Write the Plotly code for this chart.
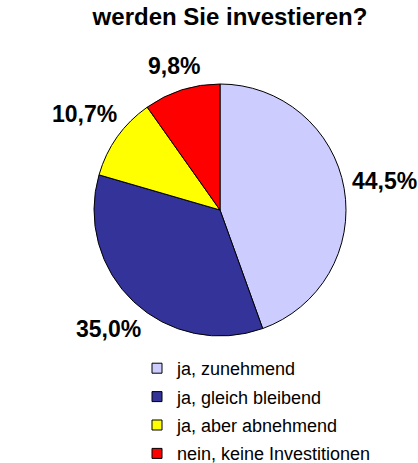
import math
import plotly.graph_objects as go

# ---- data ----
labels = ["ja, zunehmend", "ja, gleich bleibend", "ja, aber abnehmend", "nein, keine Investitionen"]
values = [44.5, 35.0, 10.7, 9.8]
colors = ["#CCCCFF", "#333399", "#FFFF00", "#FF0000"]
title_text = "werden Sie investieren?"

# ---- layout constants (pixels) ----
W, H = 418, 463
CX, CY, R = 220, 210, 126
FONT = "Liberation Sans, Arial, sans-serif"
LABEL_SIZE = 23
CHAR_W = 13.2

dom_x = [(CX - R) / W, (CX + R) / W]
dom_y = [1 - (CY + R) / H, 1 - (CY - R) / H]

fig = go.Figure()
fig.add_trace(go.Pie(
    labels=labels,
    values=values,
    marker=dict(colors=colors, line=dict(color="black", width=1)),
    sort=False,
    direction="clockwise",
    rotation=0,
    textinfo="none",
    hoverinfo="label+percent",
    domain=dict(x=dom_x, y=dom_y),
    showlegend=False,
))

# legend entries (one per category, so the entries can be spaced like the reference)
for lab, col in zip(labels, colors):
    fig.add_trace(go.Scatter(
        x=[None], y=[None], mode="markers", name=lab, legendgroup=lab,
        marker=dict(symbol="square", size=10, color=col, line=dict(color="black", width=1)),
        hoverinfo="skip", showlegend=True,
    ))

# data labels placed outside each slice, along its mid-angle
total = sum(values)
cum = 0.0
annotations = []
for v in values:
    mid = (cum + v / 2) / total * 2 * math.pi
    cum += v
    txt = f"{v:.1f}".replace(".", ",") + "%"
    hw = len(txt) * CHAR_W / 2
    hh = 11
    sx, sy = math.sin(mid), -math.cos(mid)
    dist = R + 7 + hw * abs(sx) + hh * abs(sy)
    px = CX + dist * sx
    py = CY + dist * sy
    annotations.append(dict(
        x=px / W, y=1 - py / H, xref="paper", yref="paper",
        text=f"<b>{txt}</b>", showarrow=False,
        xanchor="center", yanchor="middle",
        font=dict(family=FONT, size=LABEL_SIZE, color="black"),
    ))

fig.update_layout(
    width=W, height=H,
    margin=dict(l=0, r=0, t=0, b=0, autoexpand=False),
    paper_bgcolor="white",
    plot_bgcolor="white",
    xaxis=dict(visible=False),
    yaxis=dict(visible=False),
    title=dict(
        text=f"<b>{title_text}</b>",
        x=230 / W, xanchor="center",
        y=1 - 17 / H, yanchor="middle",
        font=dict(family=FONT, size=24, color="black"),
    ),
    annotations=annotations,
    legend=dict(
        x=137 / W, xanchor="left",
        y=1 - 350 / H, yanchor="top",
        font=dict(family=FONT, size=18, color="black"),
        bgcolor="rgba(0,0,0,0)",
        borderwidth=0,
        tracegroupgap=2,
        itemclick=False,
        itemdoubleclick=False,
    ),
)

fig.write_html("out.html", config={"displayModeBar": False},
               post_script="document.body.style.margin='0';")
